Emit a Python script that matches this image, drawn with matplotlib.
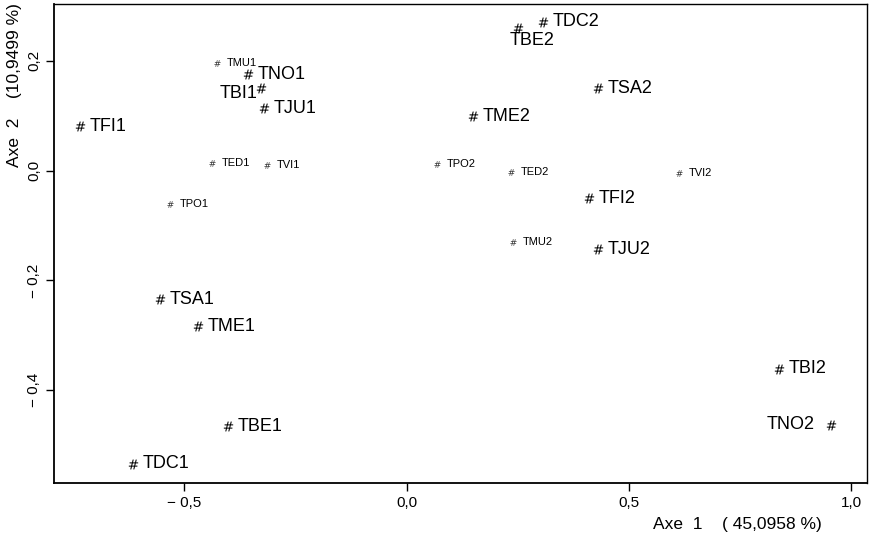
import matplotlib.pyplot as plt

plt.rcParams['font.family'] = ['Liberation Sans', 'DejaVu Sans']

# coordinates of the 24 points on the first factorial plane
names = ['TMU1', 'TNO1', 'TBI1', 'TJU1', 'TFI1', 'TED1', 'TVI1', 'TPO1',
         'TSA1', 'TME1', 'TBE1', 'TDC1',
         'TDC2', 'TBE2', 'TSA2', 'TME2', 'TPO2', 'TED2', 'TVI2', 'TFI2',
         'TMU2', 'TJU2', 'TBI2', 'TNO2']
axe1 = [-0.426, -0.357, -0.328, -0.321, -0.735, -0.438, -0.315, -0.532,
        -0.555, -0.470, -0.402, -0.615,
        0.306, 0.250, 0.430, 0.149, 0.068, 0.234, 0.612, 0.410,
        0.240, 0.430, 0.837, 0.954]
axe2 = [0.196, 0.176, 0.150, 0.114, 0.081, 0.014, 0.010, -0.061,
        -0.234, -0.283, -0.465, -0.534,
        0.271, 0.260, 0.150, 0.099, 0.012, -0.003, -0.004, -0.050,
        -0.130, -0.143, -0.361, -0.463]

xticks = [-0.5, 0.0, 0.5, 1.0]
xticklabels = ['\u2212 0,5', '0,0', '0,5', '1,0']
yticks = [-0.4, -0.2, 0.0, 0.2]
yticklabels = ['\u2212 0,4', '\u2212 0,2', '0,0', '0,2']

small = {'TMU1', 'TED1', 'TVI1', 'TPO1', 'TPO2', 'TED2', 'TVI2', 'TMU2'}
left_side = {'TBI1', 'TNO2'}
below = {'TBE2'}

fig = plt.figure(figsize=(8.7, 5.41), dpi=100)
ax = fig.add_axes([0.062, 0.107, 0.9346, 0.8856])

for name, x, y in zip(names, axe1, axe2):
    if name in small:
        ax.scatter([x], [y], marker=r'$\#$', s=22, color='#333333', linewidths=0)
        fs = 8
    else:
        ax.scatter([x], [y], marker=r'$\#$', s=50, color='black', linewidths=0)
        fs = 13
    if name in left_side:
        if name == 'TBI1':
            ax.annotate(name, (x, y), xytext=(-2, -4), textcoords='offset points',
                        ha='right', va='center', fontsize=fs)
        else:
            ax.annotate(name, (x, y), xytext=(-12, 0), textcoords='offset points',
                        ha='right', va='center', fontsize=fs)
    elif name in below:
        ax.annotate(name, (x, y), xytext=(-6, -3), textcoords='offset points',
                    ha='left', va='top', fontsize=fs)
    else:
        ax.annotate(name, (x, y), xytext=(7, 0), textcoords='offset points',
                    ha='left', va='center', fontsize=fs)

ax.set_xlim(-0.793, 1.035)
ax.set_ylim(-0.569, 0.3035)
ax.set_xticks(xticks)
ax.set_xticklabels(xticklabels, fontsize=11)
ax.set_yticks(yticks)
ax.set_yticklabels(yticklabels, fontsize=11, rotation=90, va='center')
ax.tick_params(direction='out', length=6, width=1, pad=3)
for side in ['left', 'bottom']:
    ax.spines[side].set_linewidth(1.3)
for side in ['top', 'right']:
    ax.spines[side].set_linewidth(1.0)

fig.text(0.847, 0.031, 'Axe  1    ( 45,0958 %)', fontsize=12.5, ha='center', va='center')
fig.text(0.017, 0.843, 'Axe  2    (10,9499 %)', fontsize=12.5, ha='center', va='center',
         rotation=90)

fig.savefig('out.png', dpi=100)
